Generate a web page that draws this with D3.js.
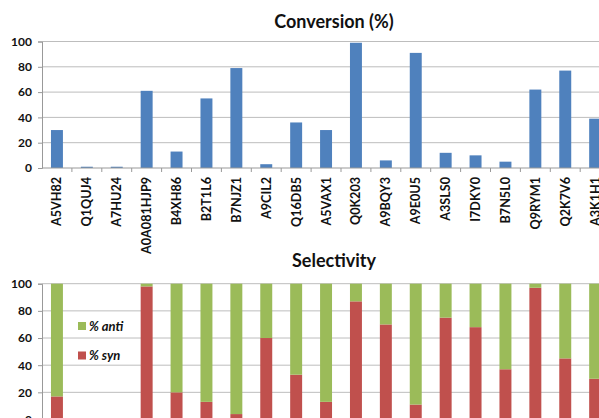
<!DOCTYPE html>
<html>
<head>
<meta charset="utf-8">
<script src="https://cdn.jsdelivr.net/npm/d3@7"></script>
<style>
  body { margin: 0; background: #fff; overflow: hidden; }
  svg text { font-family: Lato, "Open Sans", sans-serif; }
</style>
</head>
<body>
<svg id="chart" width="599" height="418"></svg>
<script>
// DATA
var categories = ['A5VH82', 'Q1QUJ4', 'A7HU24', 'A0A081HJP9', 'B4XH86', 'B2T1L6', 'B7NJZ1', 'A9CIL2', 'Q16DB5', 'A5VAX1',
                  'Q0K203', 'A9BQY3', 'A9E0U5', 'A3SLS0', 'I7DKY0', 'B7N5L0', 'Q9RYM1', 'Q2K7V6', 'A3K1H1'];
var conversion = [30, 1, 1, 61, 13, 55, 79, 3, 36, 30, 99, 6, 91, 12, 10, 5, 62, 77, 39];
// selectivity (null = no product)
var synPct  = [17, null, null, 98, 20, 13, 4, 60, 33, 13, 87, 70, 11, 75, 68, 37, 97, 45, 30];
var antiPct = [83, null, null, 2, 80, 87, 96, 40, 67, 87, 13, 30, 89, 25, 32, 63, 3, 55, 70];
var yTicks = [0, 20, 40, 60, 80, 100];
var legendLabels = ['% anti', '% syn'];

// colours
var blue = '#4f81bd';
var green = '#9bbb59';
var red = '#c0504d';

var svg = d3.select('#chart');

// same x scale for both panels (chart runs off the right edge)
var x = d3.scaleBand().domain(categories).range([42, 42 + categories.length * 29.9]).paddingInner(0.6).paddingOuter(0.3);

function drawPanel(top, bottom, title, titleY){
    var y = d3.scaleLinear().domain([0, 100]).range([bottom, top]);
    var g = svg.append('g');

    // gridlines
    g.selectAll('.grid').data(yTicks.slice(1)).enter().append('line')
        .attr('x1', 42).attr('x2', 599)
        .attr('y1', function(d){ return y(d); }).attr('y2', function(d){ return y(d); })
        .attr('stroke', '#bdbdbd').attr('stroke-width', 1);

    // y axis
    var yAxis = d3.axisLeft(y).tickValues(yTicks).tickSize(4).tickPadding(6);
    var ya = g.append('g').attr('transform', 'translate(42,0)').call(yAxis);
    ya.select('.domain').attr('stroke', '#999');
    ya.selectAll('.tick line').attr('stroke', '#999');
    ya.selectAll('text').attr('font-size', 12).attr('font-weight', 'bold').attr('fill', '#111')
        .style('font-family', 'Lato, sans-serif');

    // title
    svg.append('text').attr('x', 334).attr('y', titleY).attr('text-anchor', 'middle')
        .attr('font-size', 18).attr('font-weight', 'bold').attr('fill', '#111').text(title);

    return y;
}

// TOP PANEL - conversion
var yTop = drawPanel(41.5, 168, 'Conversion (%)', 28);

svg.append('g').selectAll('rect').data(categories).enter().append('rect')
    .attr('x', function(d){ return x(d); })
    .attr('width', x.bandwidth())
    .attr('y', function(d, i){ return yTop(conversion[i]); })
    .attr('height', function(d, i){ return yTop(0) - yTop(conversion[i]); })
    .attr('fill', blue);

// x axis with ticks between the categories
var xa = svg.append('g').attr('transform', 'translate(0,168)');
xa.append('line').attr('x1', 42).attr('x2', 599).attr('y1', 0).attr('y2', 0).attr('stroke', '#999');
xa.selectAll('.tk').data(categories).enter().append('line')
    .attr('x1', function(d){ return x(d) - x.step() * x.paddingInner() / 2 + x.step(); })
    .attr('x2', function(d){ return x(d) - x.step() * x.paddingInner() / 2 + x.step(); })
    .attr('y1', 0).attr('y2', 4).attr('stroke', '#999');
xa.selectAll('.lbl').data(categories).enter().append('text')
    .attr('transform', function(d){ return 'translate(' + (x(d) + x.bandwidth() / 2 + 4.5) + ',9) rotate(-90)'; })
    .attr('text-anchor', 'end')
    .attr('font-size', 12.6).attr('font-weight', 'bold').attr('fill', '#111')
    .text(function(d){ return d; });

// BOTTOM PANEL - selectivity
var yBot = drawPanel(283.7, 419.5, 'Selectivity', 267);

var stack = svg.append('g');
categories.forEach(function(c, i){
    if (synPct[i] === null) return;
    stack.append('rect')
        .attr('x', x(c)).attr('width', x.bandwidth())
        .attr('y', yBot(synPct[i])).attr('height', yBot(0) - yBot(synPct[i]))
        .attr('fill', red);
    stack.append('rect')
        .attr('x', x(c)).attr('width', x.bandwidth())
        .attr('y', yBot(synPct[i] + antiPct[i])).attr('height', yBot(synPct[i]) - yBot(synPct[i] + antiPct[i]))
        .attr('fill', green);
});

// legend
var legend = svg.append('g').attr('transform', 'translate(78,322)');
legendLabels.forEach(function(l, i){
    var row = legend.append('g').attr('transform', 'translate(0,' + (i * 29.5) + ')');
    row.append('rect').attr('width', 8).attr('height', 8).attr('fill', i === 0 ? green : red);
    row.append('text').attr('x', 11).attr('y', 8.5).attr('font-size', 13).attr('font-weight', 'bold')
        .attr('font-style', 'italic').attr('fill', '#111').text(l);
});
</script>
</body>
</html>
